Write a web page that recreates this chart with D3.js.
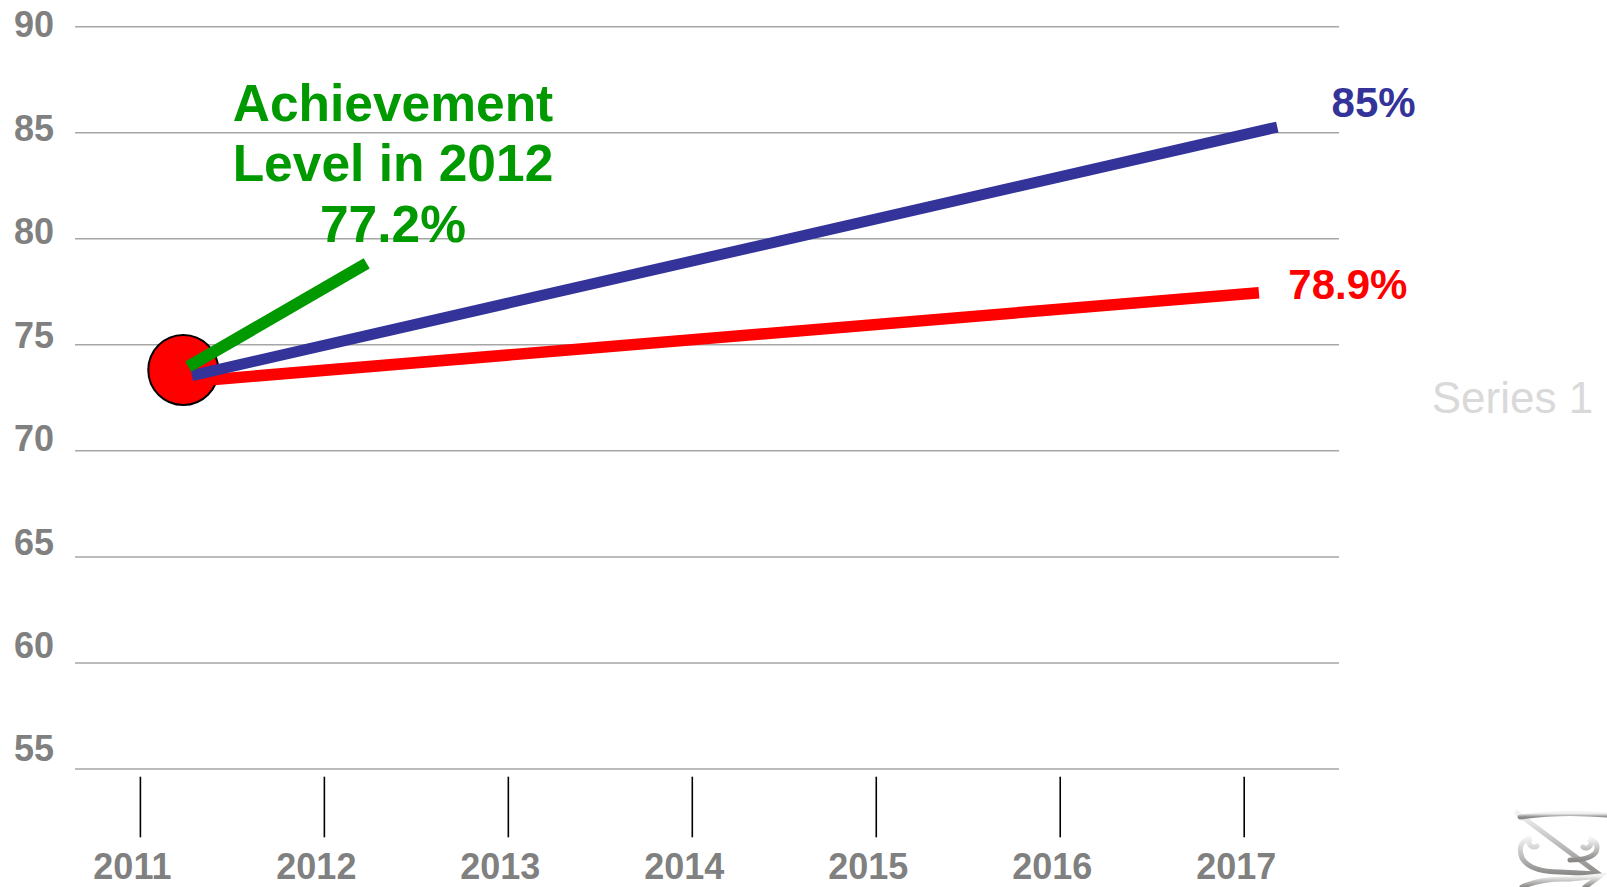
<!DOCTYPE html>
<html>
<head>
<meta charset="utf-8">
<script src="https://cdn.jsdelivr.net/npm/d3@7"></script>
<style>
  html, body { margin: 0; padding: 0; background: #fff; overflow: hidden; }
  svg { display: block; font-family: "Liberation Sans", Arial, sans-serif; }
</style>
</head>
<body>
<div id="chart"></div>
<script>
// Data
const years = [2011, 2012, 2013, 2014, 2015, 2016, 2017];
const yTicks = [55, 60, 65, 70, 75, 80, 85, 90];

const targetLine = [
  { year: 2011.28, value: 73.55 },
  { year: 2017.18, value: 85.27 },
];
const trendLine = [
  { year: 2011.32, value: 73.31 },
  { year: 2017.08, value: 77.46 },
];
const pointerLine = [
  { year: 2011.26, value: 73.97 },
  { year: 2012.23, value: 78.84 },
];
const startPoint = { year: 2011.233, value: 73.81 };

const annotationLines = ["Achievement", "Level in 2012", "77.2%"];
const targetLabel = "85%";
const trendLabel = "78.9%";
const legendLabel = "Series 1";

const width = 1607;
const height = 887;

const svg = d3
  .select("#chart")
  .append("svg")
  .attr("width", width)
  .attr("height", height);

// Scales
const x = d3.scaleLinear().domain([2011, 2017]).range([140.4, 1244.2]);
const y = d3.scaleLinear().domain([55, 90]).range([769, 26.7]);
// tick labels in the original drift a little from their gridlines
const yLabel = d3.scaleLinear().domain([55, 90]).range([761.4, 37.4]);

// Gridlines
svg
  .append("g")
  .selectAll("line")
  .data(yTicks)
  .enter()
  .append("line")
  .attr("x1", 75)
  .attr("x2", 1339)
  .attr("y1", (d) => y(d))
  .attr("y2", (d) => y(d))
  .attr("stroke", "#a6a6a6")
  .attr("stroke-width", 1.5);

// Y labels
svg
  .append("g")
  .selectAll("text")
  .data(yTicks)
  .enter()
  .append("text")
  .attr("x", 54)
  .attr("y", (d) => yLabel(d))
  .attr("text-anchor", "end")
  .attr("font-size", 36)
  .attr("font-weight", "bold")
  .attr("fill", "#808080")
  .text((d) => d);

// X axis ticks and labels
const xAxis = svg.append("g");
xAxis
  .selectAll("line")
  .data(years)
  .enter()
  .append("line")
  .attr("x1", (d) => x(d))
  .attr("x2", (d) => x(d))
  .attr("y1", 776.7)
  .attr("y2", 837.3)
  .attr("stroke", "#000")
  .attr("stroke-width", 1.6);

xAxis
  .selectAll("text")
  .data(years)
  .enter()
  .append("text")
  .attr("x", (d) => x(d) - 8)
  .attr("y", 879)
  .attr("text-anchor", "middle")
  .attr("font-size", 36)
  .attr("font-weight", "bold")
  .attr("fill", "#808080")
  .text((d) => d);

// Marker + lines
const line = d3
  .line()
  .x((d) => x(d.year))
  .y((d) => y(d.value));

svg
  .append("circle")
  .attr("cx", x(startPoint.year))
  .attr("cy", y(startPoint.value))
  .attr("r", 35)
  .attr("fill", "#ff0000")
  .attr("stroke", "#000")
  .attr("stroke-width", 2);

svg
  .append("path")
  .datum(trendLine)
  .attr("d", line)
  .attr("fill", "none")
  .attr("stroke", "#ff0000")
  .attr("stroke-width", 11.5);

svg
  .append("path")
  .datum(targetLine)
  .attr("d", line)
  .attr("fill", "none")
  .attr("stroke", "#333399")
  .attr("stroke-width", 11);

svg
  .append("path")
  .datum(pointerLine)
  .attr("d", line)
  .attr("fill", "none")
  .attr("stroke", "#009900")
  .attr("stroke-width", 12);

// Annotation
const annot = svg
  .append("text")
  .attr("text-anchor", "middle")
  .attr("font-size", 51.5)
  .attr("font-weight", "bold")
  .attr("fill", "#009900");
annot
  .selectAll("tspan")
  .data(annotationLines)
  .enter()
  .append("tspan")
  .attr("x", x(2012.373))
  .attr("y", (d, i) => 120.7 + i * 60.5)
  .text((d) => d);

svg
  .append("text")
  .attr("x", x(2017.475))
  .attr("y", y(85.73))
  .attr("font-size", 42)
  .attr("font-weight", "bold")
  .attr("fill", "#333399")
  .text(targetLabel);

svg
  .append("text")
  .attr("x", x(2017.24))
  .attr("y", y(77.15))
  .attr("font-size", 42)
  .attr("font-weight", "bold")
  .attr("fill", "#ff0000")
  .text(trendLabel);

// Legend remnant
svg
  .append("text")
  .attr("x", 1431.7)
  .attr("y", 413.3)
  .attr("font-size", 44)
  .attr("fill", "#d9d9d9")
  .text(legendLabel);

// Decorative swirl, bottom right corner
const defs = svg.append("defs");
const grad = defs
  .append("linearGradient")
  .attr("id", "swirl")
  .attr("x1", 0)
  .attr("y1", 0)
  .attr("x2", 0)
  .attr("y2", 1);
grad.append("stop").attr("offset", "0%").attr("stop-color", "#f2f2f2");
grad.append("stop").attr("offset", "100%").attr("stop-color", "#8c8a88");

const deco = svg
  .append("g")
  .attr("fill", "none")
  .attr("stroke", "url(#swirl)")
  .attr("stroke-width", 5)
  .attr("stroke-linecap", "round");
deco.append("path").attr("d", "M1517,813 L1600,875");
deco.append("path").attr("d", "M1520,817 Q1560,811 1607,815");
deco
  .append("path")
  .attr("d", "M1537,846 a5,5 0 1,1 -6,-8 Q1516,842 1522,858 Q1530,872 1560,872 L1598,874");
deco
  .append("path")
  .attr("d", "M1583,847 a5,5 0 1,0 6,-8 Q1600,842 1596,852 Q1590,860 1570,860");
deco.append("path").attr("d", "M1522,887 Q1540,878 1570,879 L1600,876 L1585,887");
</script>
</body>
</html>
